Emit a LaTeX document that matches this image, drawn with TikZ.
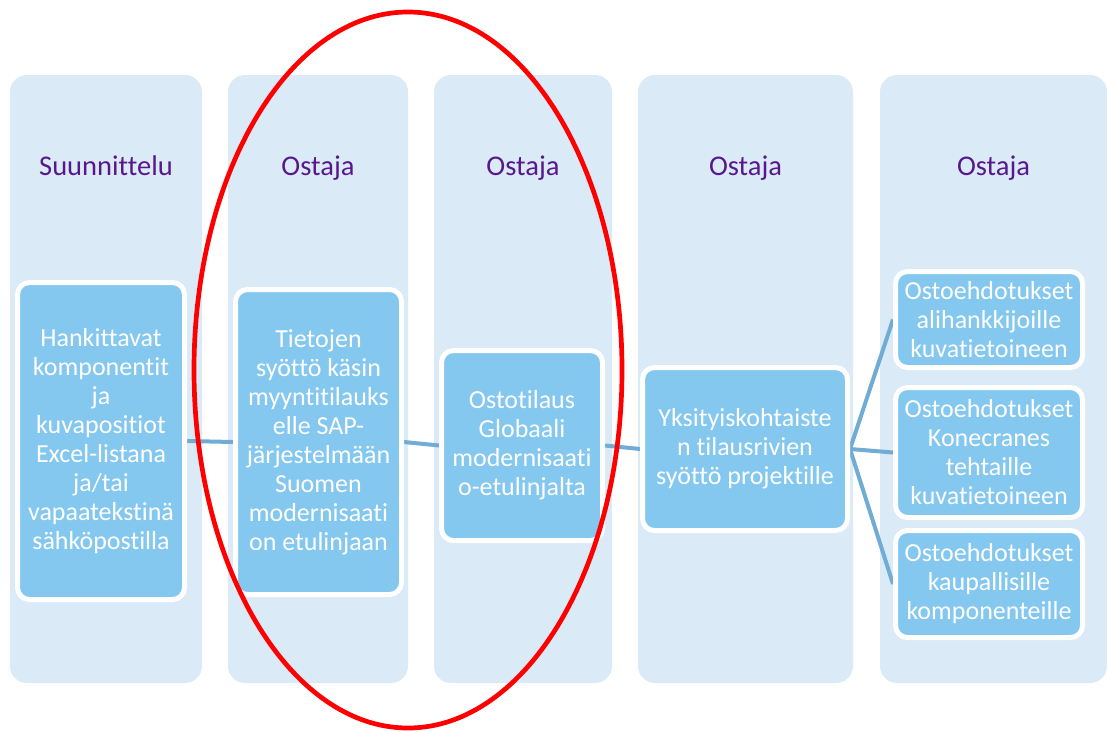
\documentclass[tikz,border=0pt]{standalone}
\usepackage{fontspec}
\setmainfont{Carlito}[Ligatures={NoCommon,NoContextual}]
\definecolor{colbg}{RGB}{218,234,247}
\definecolor{boxfill}{RGB}{132,199,239}
\definecolor{linkblue}{RGB}{112,172,212}
\definecolor{headpurple}{RGB}{88,24,140}
\pgfdeclarelayer{columns}
\pgfdeclarelayer{links}
\pgfsetlayers{columns,links,main}
\tikzset{
  lane/.style={rectangle, rounded corners=17pt, fill=colbg, inner sep=0pt,
    minimum height=608pt},
  head/.style={anchor=base, text=headpurple, inner sep=0pt,
    font=\fontsize{28.5}{34}\selectfont},
  stepbox/.style={rectangle, rounded corners=12pt, fill=boxfill, draw=white,
    line width=5pt, inner sep=0pt, text=white, align=center,
    font=\fontsize{26}{29}\selectfont},
  link/.style={draw=linkblue, line width=4pt},
}
\begin{document}
\begin{tikzpicture}[x=1pt,y=-1pt]
\useasboundingbox (0,0) rectangle (1107,731);

% background lanes
\begin{pgfonlayer}{columns}
\node[lane, minimum width=192pt] (c1) at (106,379) {};
\node[lane, minimum width=180pt] (c2) at (318,379) {};
\node[lane, minimum width=178pt] (c3) at (523,379) {};
\node[lane, minimum width=215pt] (c4) at (745.5,379) {};
\node[lane, minimum width=227pt] (c5) at (993.5,379) {};
\end{pgfonlayer}

% lane headings
\node[head] (h1) at (106,175) {Suunnittelu};
\node[head] (h2) at (318,175) {Ostaja};
\node[head] (h3) at (523,175) {Ostaja};
\node[head] (h4) at (745.5,175) {Ostaja};
\node[head] (h5) at (993.5,175) {Ostaja};

% process steps
\node[stepbox, minimum width=167pt, minimum height=317pt] (b1) at (101,441)
  {Hankittavat\\komponentit\\ja\\kuvapositiot\\Excel-listana\\ja/tai\\vapaatekstinä\\sähköpostilla};
\node[stepbox, minimum width=166pt, minimum height=305pt] (b2) at (318.5,442)
  {Tietojen\\syöttö käsin\\myyntitilauks\\elle SAP-\\järjestelmään\\Suomen\\modernisaati\\on etulinjaan};
\node[stepbox, minimum width=161pt, minimum height=190pt] (b3) at (522,445.5)
  {Ostotilaus\\Globaali\\modernisaati\\o-etulinjalta};
\node[stepbox, minimum width=205pt, minimum height=163pt] (b4) at (745,449)
  {Yksityiskohtaiste\\n tilausrivien\\syöttö projektille};
\node[stepbox, minimum width=187pt, minimum height=96pt] (b5a) at (989,319.5)
  {Ostoehdotukset\\alihankkijoille\\kuvatietoineen};
\node[stepbox, minimum width=187pt, minimum height=130pt] (b5b) at (989,452.5)
  {Ostoehdotukset\\Konecranes\\tehtaille\\kuvatietoineen};
\node[stepbox, minimum width=187pt, minimum height=107pt] (b5c) at (989,584)
  {Ostoehdotukset\\kaupallisille\\komponenteille};

% connectors
\begin{pgfonlayer}{links}
\draw[link] (b1.east) -- (b2.west);
\draw[link] (b2.east) -- (b3.west);
\draw[link] (b3.east) -- (b4.west);
\draw[link] (b4.east) -- (b5a.west);
\draw[link] (b4.east) -- (b5b.west);
\draw[link] (b4.east) -- (b5c.west);
\end{pgfonlayer}

% highlight around the two middle steps
\draw[red, line width=4.7pt] (408,370) ellipse [x radius=214pt, y radius=358pt];
\end{tikzpicture}
\end{document}
